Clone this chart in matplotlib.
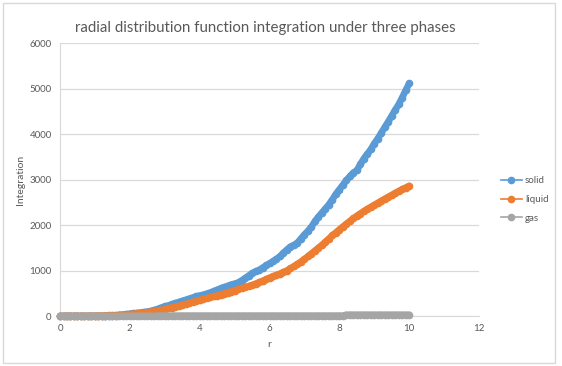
import numpy as np
import matplotlib.pyplot as plt
from matplotlib.lines import Line2D
from matplotlib.patches import Rectangle

# ==============================
# Data
# ==============================
r = np.round(np.arange(0, 10.001, 0.1), 1)

solid = [0, 0, 0, 0, 0, 0, 0, 0, 0, 0,
         0, 0, 0, 0, 0, 5, 10, 20, 30, 40,
         50, 58, 66, 75, 85, 95, 110, 130, 155, 185,
         210, 230, 255, 280, 305, 330, 355, 380, 405, 430,
         450, 465, 490, 515, 545, 575, 605, 630, 660, 690,
         710, 735, 780, 830, 885, 940, 980, 1010, 1060, 1110,
         1155, 1200, 1255, 1310, 1390, 1460, 1525, 1560, 1610, 1700,
         1790, 1870, 1960, 2080, 2180, 2270, 2360, 2450, 2560, 2680,
         2780, 2880, 2980, 3070, 3150, 3200, 3330, 3460, 3560, 3660,
         3790, 3900, 4020, 4150, 4270, 4400, 4530, 4650, 4800, 4960,
         5110]

liquid = [0, 0, 0, 0, 0, 0, 0, 0, 2, 3,
          5, 6, 8, 10, 12, 15, 18, 22, 27, 33,
          40, 46, 53, 61, 70, 80, 92, 105, 118, 133,
          150, 167, 185, 203, 221, 240, 261, 282, 304, 327,
          350, 370, 390, 410, 430, 450, 472, 494, 516, 538,
          560, 583, 606, 630, 655, 680, 710, 740, 772, 805,
          840, 870, 900, 932, 965, 1000, 1045, 1092, 1142, 1195,
          1250, 1310, 1372, 1434, 1497, 1560, 1630, 1700, 1770, 1835,
          1900, 1963, 2024, 2084, 2143, 2200, 2252, 2302, 2350, 2396,
          2440, 2485, 2530, 2574, 2617, 2660, 2702, 2744, 2784, 2822,
          2860]

gas = [0] * 28 + [8] * 54 + [28] * 19

series = [("solid", solid, "#5b9bd5"),
          ("liquid", liquid, "#ed7d31"),
          ("gas", gas, "#a5a5a5")]

text_col = "#595959"
grid_col = "#d9d9d9"

# ==============================
# Plot
# ==============================
plt.rcParams['font.family'] = ['Lato', 'DejaVu Sans']

fig = plt.figure(figsize=(5.62, 3.66), dpi=100)
ax = fig.add_axes([0.1068, 0.1366, 0.7455, 0.7459])

for name, vals, col in series:
    ax.plot(r, vals, color=col, lw=4.8, marker="o", ms=4.5, mec=col, mfc=col,
            solid_capstyle="round", solid_joinstyle="round", clip_on=False)

ax.set_xlim(0, 12)
ax.set_ylim(0, 6000)
ax.set_xticks(range(0, 13, 2))
ax.set_yticks(range(0, 6001, 1000))
ax.yaxis.grid(True, color=grid_col, lw=0.9)
ax.set_axisbelow(True)
ax.tick_params(length=0, labelsize=7, colors=text_col, pad=6)

for s in ["top", "right"]:
    ax.spines[s].set_visible(False)
ax.spines["left"].set_color(grid_col)
ax.spines["bottom"].set_color(grid_col)
ax.spines["left"].set_zorder(0.5)
ax.spines["bottom"].set_zorder(0.5)

ax.set_xlabel("r", fontsize=7.5, color=text_col, labelpad=5)
ax.set_ylabel("Integration", fontsize=7.5, color=text_col, labelpad=3)
fig.text(0.472, 0.923, "radial distribution function integration under three phases",
         ha="center", va="center", fontsize=10.8, color=text_col)

handles = [Line2D([], [], color=col, lw=1.2, marker="o", ms=4.5) for _, _, col in series]
fig.legend(handles, [s[0] for s in series], loc="center left",
           bbox_to_anchor=(0.875, 0.455), frameon=False,
           fontsize=7, labelcolor=text_col, handlelength=2.2,
           handletextpad=0.3, labelspacing=1.0)

# chart border
fig.patches.append(Rectangle((0.005, 0.008), 0.982, 0.984, transform=fig.transFigure,
                             fill=False, ec="#d9d9d9", lw=1))

fig.savefig("out.png", dpi=100)
